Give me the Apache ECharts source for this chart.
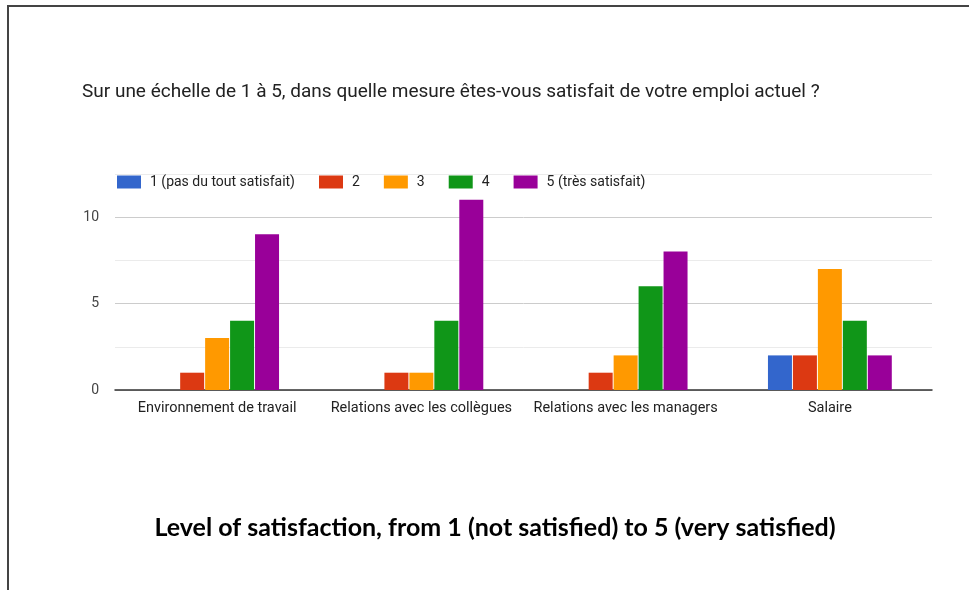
<!DOCTYPE html>
<html>
<head>
<meta charset="utf-8">
<title>Satisfaction</title>
<script src="https://cdn.jsdelivr.net/npm/echarts@6/dist/echarts.min.js"></script>
<style>
  html, body { margin: 0; padding: 0; background: #fff; }
  #frame { position: absolute; left: 7px; top: 5px; width: 962px; height: 585px;
           border-top: 2px solid #444; border-left: 2px solid #444; }
  #main { position: absolute; left: 0; top: 0; width: 969px; height: 590px; }
</style>
</head>
<body>
<div id="frame"></div>
<div id="main"></div>
<script>
// categories and answers (counts per level)
var categories = ['Environnement de travail', 'Relations avec les collègues', 'Relations avec les managers', 'Salaire'];
var levels = ['1 (pas du tout satisfait)', '2', '3', '4', '5 (très satisfait)'];
var level1 = [0, 0, 0, 2];
var level2 = [1, 1, 1, 2];
var level3 = [3, 1, 2, 7];
var level4 = [4, 4, 6, 4];
var level5 = [9, 11, 8, 2];
var colors = ['#3366cc', '#dc3912', '#ff9900', '#109618', '#990099'];

var chart = echarts.init(document.getElementById('main'));
var values = [level1, level2, level3, level4, level5];

var series = levels.map(function (name, i) {
  return {
    name: name,
    type: 'bar',
    data: values[i],
    barWidth: 24,
    barGap: '4%',
    itemStyle: { color: colors[i] },
    emphasis: { disabled: true }
  };
});

chart.setOption({
  animation: false,
  textStyle: { fontFamily: 'Roboto, Arial, sans-serif' },
  title: [{
    text: 'Sur une échelle de 1 à 5, dans quelle mesure êtes-vous satisfait de votre emploi actuel ?',
    left: 77, top: 78,
    textStyle: { fontSize: 19, fontWeight: 'normal', color: '#222', fontFamily: 'Roboto, Arial, sans-serif' }
  }, {
    text: 'Level of satisfaction, from 1 (not satisfied) to 5 (very satisfied)',
    left: 490, top: 510, textAlign: 'center',
    textStyle: { fontSize: 25, fontWeight: 'bold', color: '#000', fontFamily: 'Lato, "Open Sans", sans-serif' }
  }],
  legend: {
    data: levels,
    left: 112, top: 170,
    itemWidth: 24, itemHeight: 13,
    itemGap: 24,
    icon: 'rect',
    textStyle: { fontSize: 14, color: '#222', padding: [0, 0, 0, 4] }
  },
  grid: { left: 115, right: 37, top: 173.75, bottom: 200, containLabel: false },
  xAxis: {
    type: 'category',
    data: categories,
    axisLine: { lineStyle: { color: '#333', width: 1.5 } },
    axisTick: { show: false },
    axisLabel: { fontSize: 14.5, color: '#222', margin: 11, interval: 0 }
  },
  yAxis: {
    type: 'value',
    min: 0, max: 12.5, interval: 2.5,
    axisLine: { show: false },
    axisTick: { show: false },
    axisLabel: {
      fontSize: 14, color: '#444', margin: 16,
      formatter: function (v) { return v % 5 === 0 && v <= 10 ? String(v) : ''; }
    },
    splitLine: { lineStyle: { color: ['#cccccc', '#ebebeb'] } }
  },
  series: series
});
</script>
</body>
</html>
